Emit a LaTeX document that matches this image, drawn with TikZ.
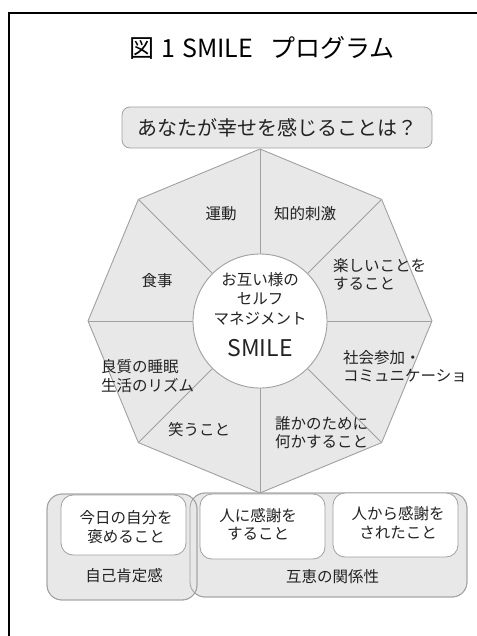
\documentclass[tikz,border=0pt]{standalone}
\usepackage{fontspec}
\setmainfont{Noto Sans CJK JP}
\definecolor{linegray}{HTML}{A0A0A0}
\definecolor{panel}{HTML}{E8E8E8}
\definecolor{txt}{HTML}{222222}
\begin{document}
\begin{tikzpicture}[x=1pt,y=-1pt,
  lbl/.style={font=\fontsize{15.5}{18.5}\selectfont, text=txt, inner sep=0pt},
  lblw/.style={lbl, anchor=west, align=left},
  lblc/.style={lbl, align=center},
  panelbox/.style={draw=linegray, fill=panel, line width=0.8pt, rounded corners=15pt},
  innerbox/.style={draw=linegray, fill=white, line width=0.8pt, rounded corners=12pt},
  spoke/.style={draw=linegray, line width=0.9pt}]
\useasboundingbox (0,0) rectangle (476,636);
% frame
\draw[line width=1.2pt] (9,13) rectangle (520,700);
% title
\node[font=\fontsize{25}{29}\selectfont, text=black, inner sep=0pt] (title) at (262,48) {図\hspace{7pt}1\hspace{7pt}SMILE\hspace{17pt}プログラム};
% octagon
\coordinate (C) at (260,321);
\foreach \i/\a in {0/-90,1/-45,2/0,3/45,4/90,5/135,6/180,7/225}
  \coordinate (v\i) at ([shift={(C)}]\a:172);
\draw[spoke, fill=panel] (v0) -- (v1) -- (v2) -- (v3) -- (v4) -- (v5) -- (v6) -- (v7) -- cycle;
\node[circle, minimum size=134pt, inner sep=0pt, fill=white, draw=linegray, line width=0.9pt] (core) at (C) {};
\foreach \i in {0,...,7} \draw[spoke] (core) -- (v\i);
% question box
\node[draw=linegray, fill=panel, line width=0.8pt, rounded corners=8pt, minimum width=310pt, minimum height=41pt, inner sep=0pt,
      font=\fontsize{20}{24}\selectfont, text=txt] (q) at (277,127.5) {あなたが幸せを感じることは？};
% core texts
\node[lblc, font=\fontsize{15.5}{19.5}\selectfont] (coretxt) at (260,298.5) {お互い様の\\セルフ\\マネジメント};
\node[lbl, font=\fontsize{23}{26}\selectfont] (smile) at (260,348) {SMILE};
% sector labels
\node[lbl] (s1) at (221,214) {運動};
\node[lbl] (s2) at (305,214) {知的刺激};
\node[lblw] (s3) at (333,274.5) {楽しいことを\\すること};
\node[lblw] (s4) at (343,366.5) {社会参加・\\コミュニケーショ};
\node[lblw] (s5) at (275,432.5) {誰かのために\\何かすること};
\node[lbl] (s6) at (199,430) {笑うこと};
\node[lblw] (s7) at (101,376) {良質の睡眠\\生活のリズム};
\node[lbl] (s8) at (157,281) {食事};
% bottom panels
\path[panelbox] (190,493) rectangle (467,597);
\path[panelbox] (47,494) rectangle (197,600);
\draw[draw=linegray, line width=0.8pt, rounded corners=15pt] (190,493) rectangle (467,597);
\draw[draw=linegray, line width=0.8pt, rounded corners=15pt] (47,494) rectangle (197,600);
\path[innerbox] (61,495) rectangle (186,555);
\path[innerbox] (200,494) rectangle (325,559);
\path[innerbox] (333,493) rectangle (458,557);
\node[lblc] (b1) at (126,527) {今日の自分を\\褒めること};
\node[lblc] (b2) at (258,524.5) {人に感謝を\\すること};
\node[lblc] (b3) at (398,523) {人から感謝を\\されたこと};
\node[lbl] (g1) at (124,576) {自己肯定感};
\node[lbl] (g2) at (332.5,577) {互恵の関係性};
\end{tikzpicture}
\end{document}
